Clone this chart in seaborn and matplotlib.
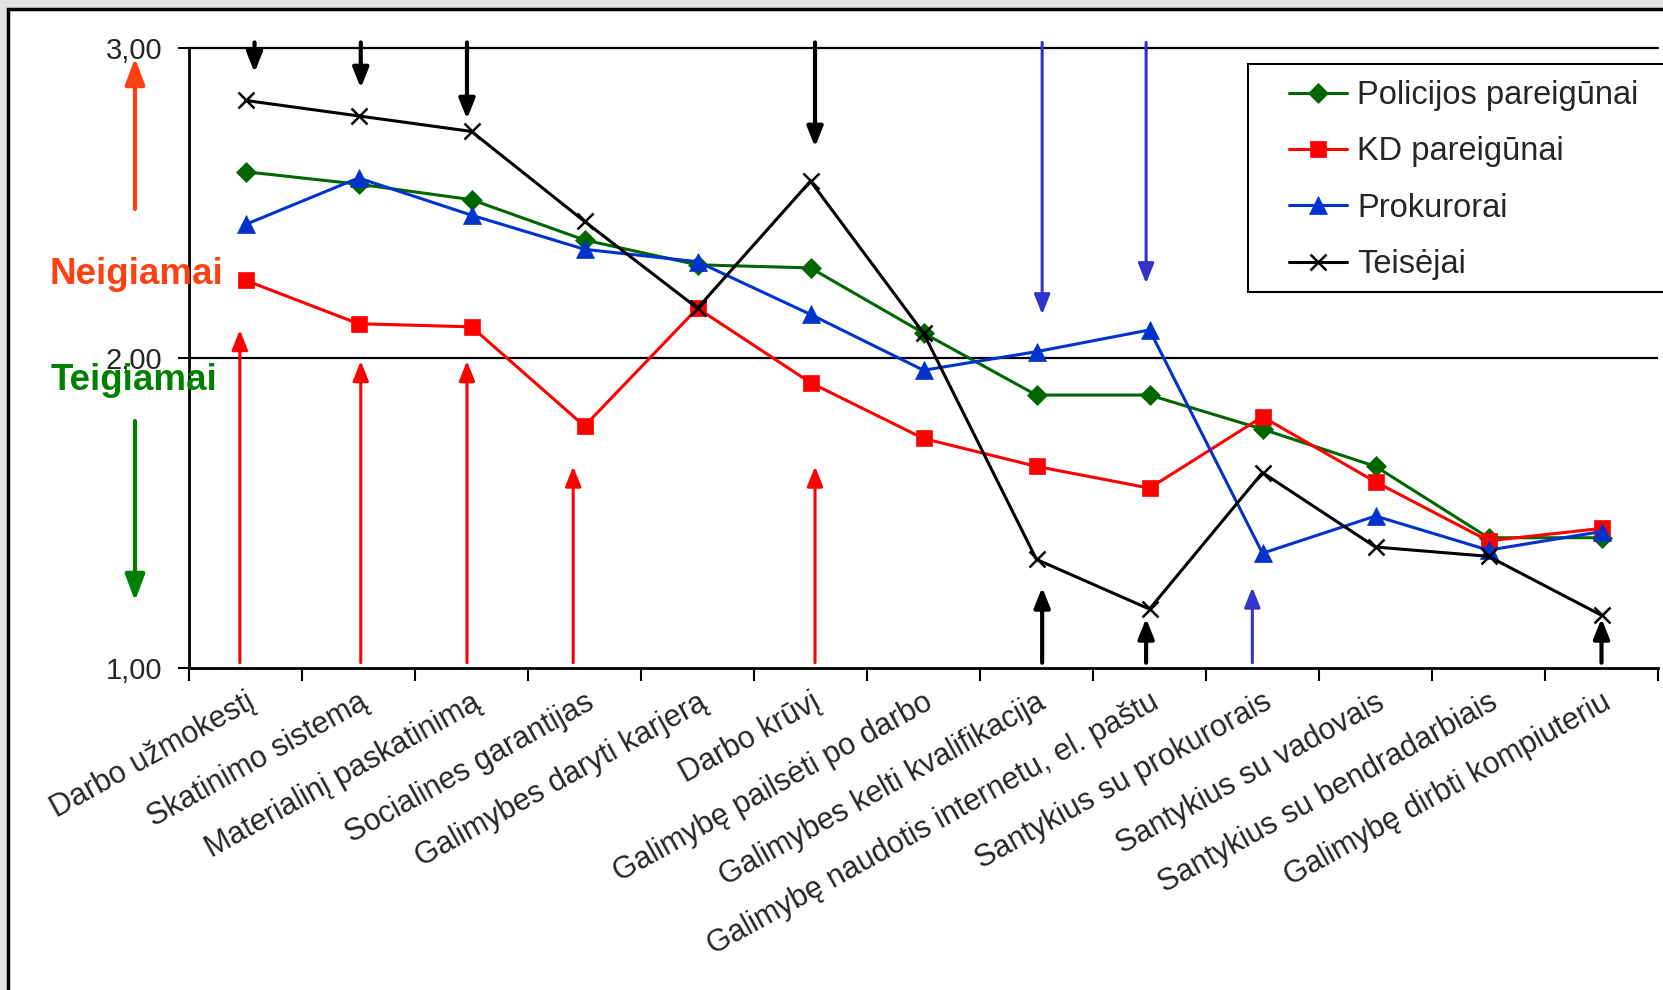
import numpy as np
import pandas as pd
import seaborn as sns
import matplotlib.pyplot as plt
import matplotlib.transforms as mtransforms
from matplotlib.patches import Rectangle

# --- duomenys (nuskaityta is paveikslo) ---
categories = [
    "Darbo užmokestį",
    "Skatinimo sistemą",
    "Materialinį paskatinimą",
    "Socialines garantijas",
    "Galimybes daryti karjerą",
    "Darbo krūvį",
    "Galimybę pailsėti po darbo",
    "Galimybes kelti kvalifikacija",
    "Galimybę naudotis internetu, el. paštu",
    "Santykius su prokurorais",
    "Santykius su vadovais",
    "Santykius su bendradarbiais",
    "Galimybę dirbti kompiuteriu",
]
policija = [2.60, 2.56, 2.51, 2.38, 2.30, 2.29, 2.08, 1.88, 1.88, 1.77, 1.65, 1.42, 1.42]
kd = [2.25, 2.11, 2.10, 1.78, 2.16, 1.92, 1.74, 1.65, 1.58, 1.81, 1.60, 1.41, 1.45]
prokurorai = [2.43, 2.58, 2.46, 2.35, 2.31, 2.14, 1.96, 2.02, 2.09, 1.37, 1.49, 1.38, 1.44]
teisejai = [2.83, 2.78, 2.73, 2.44, 2.16, 2.57, 2.08, 1.35, 1.19, 1.63, 1.39, 1.36, 1.17]
series_names = ["Policijos pareigūnai", "KD pareigūnai", "Prokurorai", "Teisėjai"]
y_ticks = [1.0, 2.0, 3.0]
y_tick_labels = ["1,00", "2,00", "3,00"]

colors = {"Policijos pareigūnai": "#006600", "KD pareigūnai": "#FF0000",
          "Prokurorai": "#0033CC", "Teisėjai": "#000000"}
markers = {"Policijos pareigūnai": "D", "KD pareigūnai": "s",
           "Prokurorai": "^", "Teisėjai": "x"}
msizes = {"Policijos pareigūnai": 10.5, "KD pareigūnai": 11,
          "Prokurorai": 13, "Teisėjai": 11}

# rodykles: (kategorija, poslinkis, y pradzia, y pabaiga, spalva, storis)
arrows = [
    (0, 0.08, 3.017, 2.92, "black", 3.0),
    (1, 0.02, 3.017, 2.87, "black", 3.0),
    (2, -0.04, 3.017, 2.77, "black", 3.0),
    (5, 0.04, 3.017, 2.68, "black", 3.0),
    (7, 0.05, 3.017, 2.14, "#3333CC", 2.2),
    (8, -0.03, 3.017, 2.24, "#3333CC", 2.2),
    (0, -0.05, 1.017, 2.09, "#FF0000", 2.2),
    (1, 0.02, 1.017, 1.99, "#FF0000", 2.2),
    (2, -0.04, 1.017, 1.99, "#FF0000", 2.2),
    (3, -0.10, 1.017, 1.65, "#FF0000", 2.2),
    (5, 0.04, 1.017, 1.65, "#FF0000", 2.2),
    (7, 0.05, 1.017, 1.26, "black", 3.0),
    (8, -0.03, 1.017, 1.16, "black", 3.0),
    (12, 0.0, 1.017, 1.16, "black", 3.0),
    (9, -0.09, 1.017, 1.26, "#3333CC", 2.2),
]

rows = []
for name, vals in zip(series_names, [policija, kd, prokurorai, teisejai]):
    for i, v in enumerate(vals):
        rows.append({"Grupe": name, "poz": i, "Vertinimas": v})
df = pd.DataFrame(rows)

sns.set_theme(style="white")
plt.rcParams['font.family'] = ['Liberation Sans', 'DejaVu Sans']

W, H = 1663, 990
fig = plt.figure(figsize=(W / 100, H / 100), dpi=100, facecolor="#e2e2e2")
# baltas skaidres laukas su remeliu
fig.patches.append(Rectangle((7.5 / W, -0.05), 1.2, 1.05 - 8.5 / H,
                             transform=fig.transFigure, fc="white", ec="black",
                             lw=2.5, zorder=-5))

ax = fig.add_axes([189 / W, 1 - 668 / H, (1658 - 189) / W, (668 - 47.7) / H])
ax.set_facecolor("none")

for name in series_names:
    c = colors[name]
    sns.lineplot(data=df[df.Grupe == name], x="poz", y="Vertinimas", ax=ax,
                 color=c, marker=markers[name], markersize=msizes[name],
                 markeredgecolor=c, markeredgewidth=1.8 if name == "Teisėjai" else 0.5,
                 lw=2.2, label=name, legend=False, zorder=3)

ax.axhline(2, color="black", lw=1.6, zorder=1)
ax.axhline(3, color="black", lw=1.6, zorder=1, clip_on=False)

for i, dx, y0, y1, c, lw in arrows:
    ax.annotate("", xy=(i + dx, y1), xytext=(i + dx, y0),
                arrowprops=dict(arrowstyle="-|>,head_length=0.6,head_width=0.24",
                                color=c, lw=lw, mutation_scale=20,
                                shrinkA=0, shrinkB=0),
                annotation_clip=False, zorder=2)

ax.set_xlim(-0.5, 12.5)
ax.set_ylim(1, 3)
ax.set_xticks(range(len(categories)))
ax.set_xticklabels(categories, rotation=29, ha="right", va="top",
                   rotation_mode="anchor", fontsize=22)
shift = mtransforms.ScaledTranslation(-10 / 100, 0, fig.dpi_scale_trans)
for lab in ax.get_xticklabels():
    lab.set_transform(lab.get_transform() + shift)
ax.set_xticks(np.arange(-0.5, len(categories), 1), minor=True)
ax.tick_params(axis="x", which="major", length=0, pad=14)
ax.tick_params(axis="x", which="minor", length=9, width=1.5, bottom=True,
               direction="out", color="black")
ax.set_yticks(y_ticks)
ax.set_yticklabels(y_tick_labels, fontsize=21)
ax.tick_params(axis="y", left=True, length=8, width=1.5, pad=11,
               direction="out", color="black")
ax.set_xlabel("")
ax.set_ylabel("")
for s in ["top", "right"]:
    ax.spines[s].set_visible(False)
for s in ["left", "bottom"]:
    ax.spines[s].set_color("black")
    ax.spines[s].set_linewidth(2)

# legenda
fig.patches.append(Rectangle((1248 / W, 1 - 292 / H), 0.3, (292 - 64) / H,
                             transform=fig.transFigure, fc="white", ec="black",
                             lw=1.5, zorder=1))
handles, labels = ax.get_legend_handles_labels()
fig.legend(handles, labels, loc="upper left", bbox_to_anchor=(1289 / W, 1 - 80 / H),
           frameon=False, fontsize=23.5, handlelength=1.78, handletextpad=0.3,
           labelspacing=0.78, borderpad=0, borderaxespad=0)

# kairioji puse
fig.text(136 / W, 1 - 274 / H, "Neigiamai", color="#FF4010", fontsize=26.5,
         weight="bold", ha="center", va="center")
fig.text(134 / W, 1 - 380 / H, "Teigiamai", color="#008000", fontsize=26.5,
         weight="bold", ha="center", va="center")
fig.add_artist(plt.Annotation("", xy=(135 / W, 1 - 58 / H), xytext=(135 / W, 1 - 209 / H),
                              xycoords="figure fraction",
                              arrowprops=dict(arrowstyle="-|>,head_length=0.8,head_width=0.3",
                                              color="#FF4010", lw=3, mutation_scale=20,
                                              shrinkA=0, shrinkB=0)))
fig.add_artist(plt.Annotation("", xy=(135 / W, 1 - 601 / H), xytext=(135 / W, 1 - 421 / H),
                              xycoords="figure fraction",
                              arrowprops=dict(arrowstyle="-|>,head_length=0.8,head_width=0.3",
                                              color="#008000", lw=3, mutation_scale=20,
                                              shrinkA=0, shrinkB=0)))

fig.savefig("out.png", dpi=100, facecolor=fig.get_facecolor())
